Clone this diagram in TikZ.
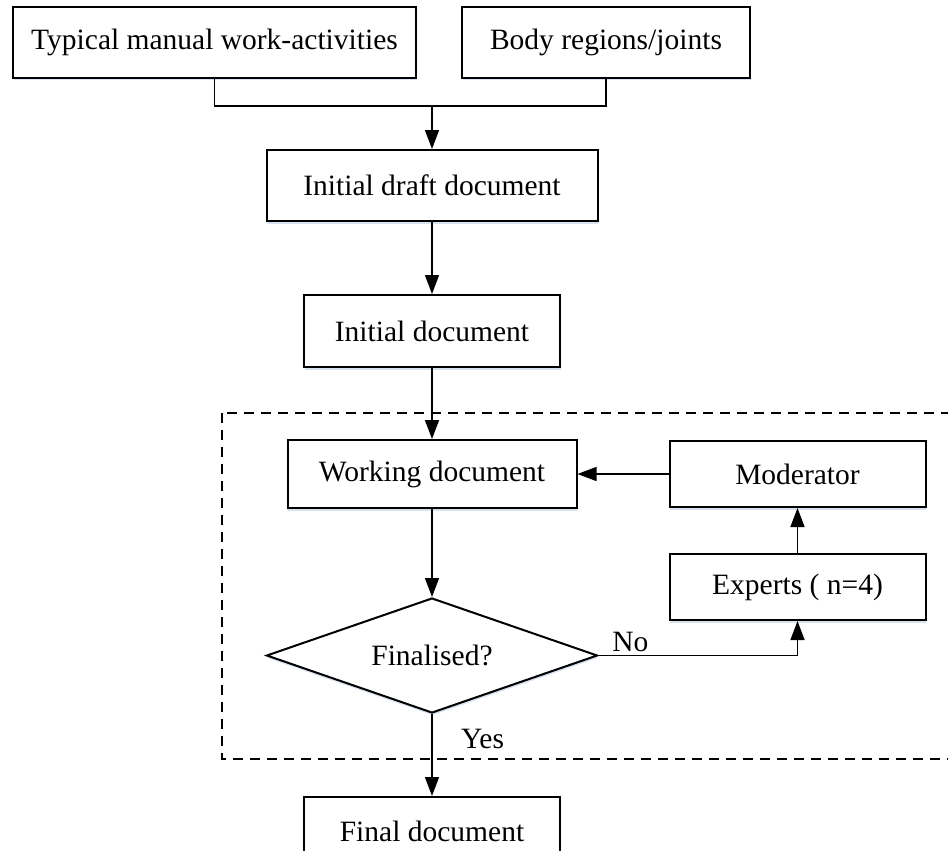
\documentclass[tikz,border=0pt]{standalone}
\usepackage{fontspec}
\setmainfont{Liberation Serif}
\usetikzlibrary{arrows.meta,positioning,shapes.geometric,shadows}
\definecolor{shadowblue}{RGB}{190,205,230}
\tikzset{
    % boxes of the review process
    docbox/.style={
        rectangle, draw=black, line width=2pt, fill=white,
        minimum height=71pt, inner sep=0pt,
        font=\fontsize{29.5}{33}\selectfont,
        drop shadow={shadow xshift=0.5pt, shadow yshift=-2.5pt, fill=shadowblue, opacity=0.6}
    },
    checkbox/.style={
        diamond, draw=black, line width=2pt, fill=white,
        minimum width=331pt, minimum height=115pt, aspect=2.9, inner sep=0pt,
        font=\fontsize{29.5}{33}\selectfont,
        drop shadow={shadow xshift=0.5pt, shadow yshift=-2.5pt, fill=shadowblue, opacity=0.6}
    },
    arrow/.style={
        -{Triangle[length=19pt,width=14pt]}, line width=1.5pt
    },
    flowline/.style={line width=1.5pt},
    loopframe/.style={line width=1.4pt, dash pattern=on 10pt off 7pt},
    edgelabel/.style={font=\fontsize{29.5}{33}\selectfont}
}
\begin{document}
\begin{tikzpicture}[x=1pt, y=1pt]
\clip (0,0) rectangle (948,-851);

% dashed frame round the expert loop
\draw[loopframe] (222,-413) rectangle (980,-759);

\node[docbox, minimum width=403pt] (activities) at (214.5,-42.5) {Typical manual work-activities};
\node[docbox, minimum width=288pt, right=44pt of activities] (regions) {Body regions/joints};
\coordinate (join) at (432,-106);
\node[docbox, minimum width=331pt] (draft) at (432,-185.5) {Initial draft document};
\node[docbox, minimum width=256pt, minimum height=72pt, below=72pt of draft] (initial) {Initial document};
\node[docbox, minimum width=289pt, minimum height=68pt, below=71pt of initial] (working) {Working document};
\node[docbox, minimum width=256pt, minimum height=66pt, right=91pt of working] (moderator) {Moderator};
\node[docbox, minimum width=256pt, minimum height=66pt, below=45pt of moderator] (experts) {Experts ( n=4)};
\node[checkbox, below=88pt of working] (finalised) {Finalised?};
\node[docbox, minimum width=256pt, minimum height=68pt, below=82pt of finalised] (final) {Final document};

\draw[flowline] (activities.south) |- (join) -| (regions.south);
\draw[arrow] (join) -- (draft);
\draw[arrow] (draft) -- (initial);
\draw[arrow] (initial) -- (working);
\draw[arrow] (working) -- (finalised);
\draw[arrow] (moderator) -- (working);
\draw[arrow] (experts) -- (moderator);
\draw[arrow] (finalised.east) -| node[edgelabel, pos=0.08, above] {No} (experts.south);
\draw[arrow] (finalised) -- node[edgelabel, pos=0.3, right=25pt] {Yes} (final);

\end{tikzpicture}
\end{document}
